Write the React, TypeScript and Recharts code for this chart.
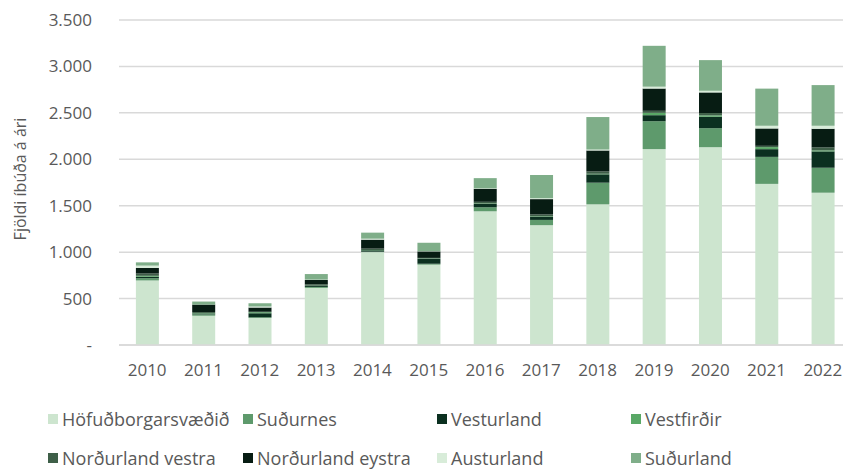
import { Bar, BarChart, CartesianGrid, XAxis, YAxis } from "recharts"

const years = ["2010", "2011", "2012", "2013", "2014", "2015", "2016", "2017", "2018", "2019", "2020", "2021", "2022"]

const hofud = [695, 315, 290, 615, 1000, 865, 1440, 1290, 1515, 2110, 2130, 1735, 1640]
const sudurnes = [25, 15, 8, 10, 5, 10, 43, 57, 233, 300, 205, 291, 269]
const vesturland = [15, 10, 43, 10, 15, 55, 36, 36, 90, 65, 123, 83, 176]
const vestfirdir = [10, 5, 12, 3, 3, 3, 5, 5, 6, 25, 15, 22, 11]
const nvestra = [25, 10, 5, 15, 15, 5, 18, 18, 25, 22, 25, 14, 32]
const neystra = [60, 80, 46, 48, 97, 70, 140, 165, 226, 240, 222, 187, 201]
const austurland = [25, 0, 10, 3, 10, 3, 5, 10, 10, 20, 18, 29, 32]
const sudurland = [35, 33, 36, 60, 65, 90, 110, 250, 350, 440, 330, 400, 438]

const yTicks = [0, 500, 1000, 1500, 2000, 2500, 3000, 3500]

const series = [
  { key: "hofud", name: "Höfuðborgarsvæðið", values: hofud, color: "#cde5cf" },
  { key: "sudurnes", name: "Suðurnes", values: sudurnes, color: "#5e9a6c" },
  { key: "vesturland", name: "Vesturland", values: vesturland, color: "#0b3020" },
  { key: "vestfirdir", name: "Vestfirðir", values: vestfirdir, color: "#59a866" },
  { key: "nvestra", name: "Norðurland vestra", values: nvestra, color: "#3e5f48" },
  { key: "neystra", name: "Norðurland eystra", values: neystra, color: "#071c13" },
  { key: "austurland", name: "Austurland", values: austurland, color: "#d8ecd9" },
  { key: "sudurland", name: "Suðurland", values: sudurland, color: "#7fae89" },
]

const data = years.map((year, i) => {
  const row: Record<string, string | number> = { year }
  series.forEach((s) => {
    row[s.key] = s.values[i]
  })
  return row
})

const font = "'Open Sans', sans-serif"
const textColor = "#595959"

const fmt = (v: number) => (v === 0 ? "-" : String(v).replace(/\B(?=(\d{3})+(?!\d))/g, "."))

const legendCols = [48, 243, 437, 631]
const legendRows = [419, 458]

export default function App() {
  return (
    <div style={{ position: "absolute", left: 0, top: 0, width: 843, height: 470, overflow: "hidden", background: "#fff", fontFamily: font }}>
      <BarChart
        width={860}
        height={470}
        data={data}
        margin={{ top: 20, right: 9, bottom: 85, left: 0 }}
        barCategoryGap="30%"
      >
        <CartesianGrid vertical={false} stroke="#d9d9d9" strokeWidth={1.5} />
        <XAxis
          dataKey="year"
          height={40}
          tickLine={false}
          tickSize={0}
          tickMargin={19}
          axisLine={{ stroke: "#d9d9d9", strokeWidth: 1.5 }}
          tick={{ fill: textColor, fontSize: 17, fontFamily: font }}
        />
        <YAxis
          width={119}
          domain={[0, 3500]}
          ticks={yTicks}
          tickFormatter={fmt}
          axisLine={false}
          tickLine={false}
          tickSize={0}
          tickMargin={27}
          tick={{ fill: textColor, fontSize: 17, fontFamily: font }}
          label={{
            content: () => (
              <text
                x={20}
                y={179}
                transform="rotate(-90 20 179)"
                textAnchor="middle"
                dominantBaseline="central"
                fill={textColor}
                fontSize={16}
                fontFamily={font}
              >
                Fjöldi íbúða á ári
              </text>
            ),
          }}
        />
        {series.map((s) => (
          <Bar key={s.key} dataKey={s.key} name={s.name} stackId="a" fill={s.color} isAnimationActive={false} />
        ))}
      </BarChart>
      {series.map((s, i) => {
        const left = legendCols[i % 4]
        const top = legendRows[Math.floor(i / 4)]
        return (
          <div
            key={s.key}
            style={{ position: "absolute", left, top: top - 11, height: 22, lineHeight: "22px", display: "flex", alignItems: "center", color: textColor, fontSize: 18, whiteSpace: "nowrap" }}
          >
            <span style={{ display: "inline-block", width: 10, height: 10, background: s.color, marginRight: 4 }} />
            {s.name}
          </div>
        )
      })}
    </div>
  )
}
